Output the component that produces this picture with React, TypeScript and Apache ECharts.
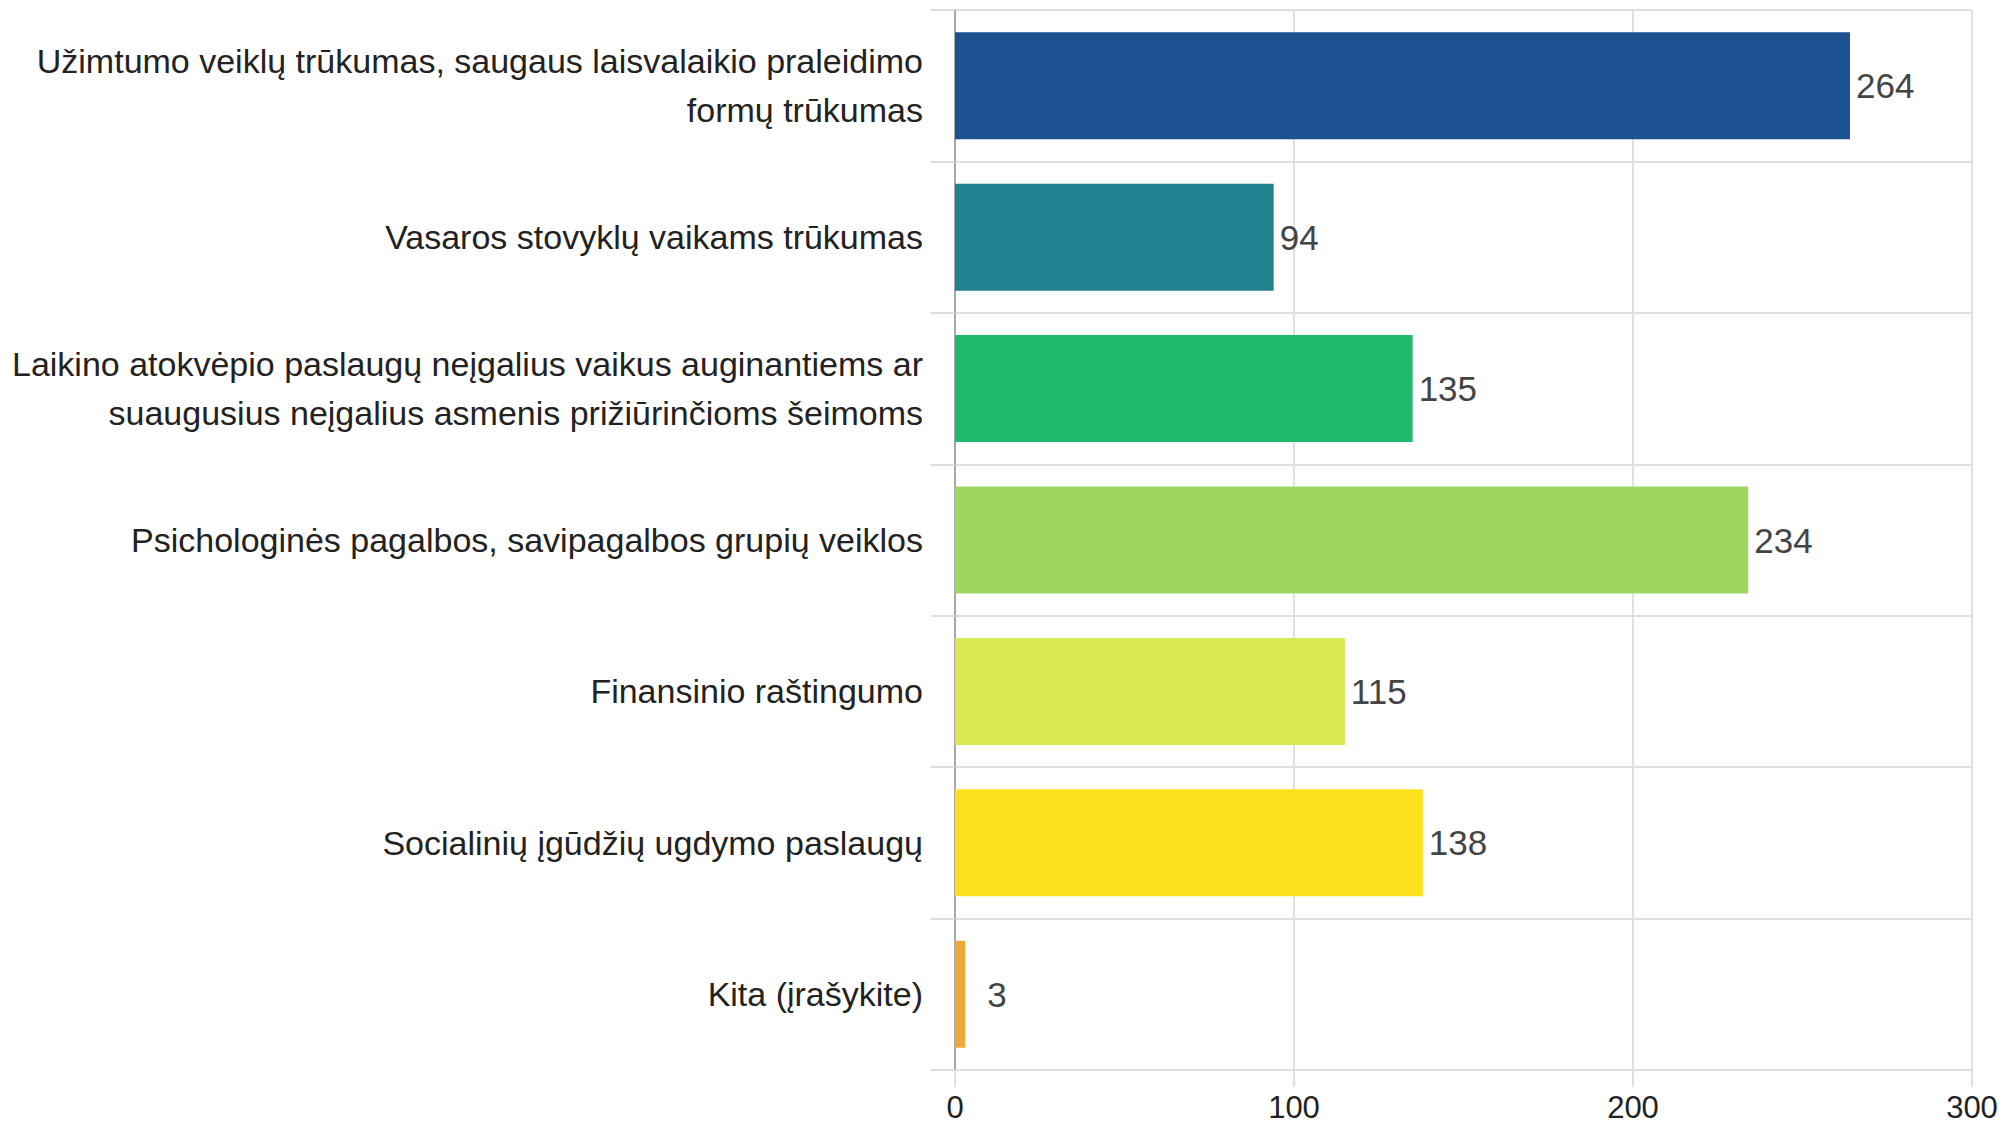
import React, { useEffect, useRef } from "react";
import * as echarts from "echarts";

const categories: string[] = [
  "Užimtumo veiklų trūkumas, saugaus laisvalaikio praleidimo\nformų trūkumas",
  "Vasaros stovyklų vaikams trūkumas",
  "Laikino atokvėpio paslaugų neįgalius vaikus auginantiems ar\nsuaugusius neįgalius asmenis prižiūrinčioms šeimoms",
  "Psichologinės pagalbos, savipagalbos grupių veiklos",
  "Finansinio raštingumo",
  "Socialinių įgūdžių ugdymo paslaugų",
  "Kita (įrašykite)",
];
const values: number[] = [264, 94, 135, 234, 115, 138, 3];
const barColors: string[] = [
  "#1b5191",
  "#22818e",
  "#1fba6e",
  "#9dd762",
  "#d9e84f",
  "#fde11c",
  "#efa737",
];
const xTicks: number[] = [0, 100, 200, 300];

const FONT = "'Liberation Sans', Arial, sans-serif";

export default function App() {
  const ref = useRef<HTMLDivElement>(null);
  useEffect(() => {
    if (!ref.current) return;
    const chart = echarts.init(ref.current, undefined, { renderer: "svg" });
    chart.setOption({
      animation: false,
      backgroundColor: "#ffffff",
      grid: { left: 955, right: 33, top: 10, bottom: 55, containLabel: false },
      xAxis: {
        type: "value",
        min: xTicks[0],
        max: xTicks[xTicks.length - 1],
        interval: 100,
        axisLine: { show: false },
        axisTick: { show: true, length: 17, lineStyle: { color: "#e0e0e0", width: 2 } },
        splitLine: { show: true, lineStyle: { color: "#e0e0e0", width: 2 } },
        axisLabel: { color: "#222222", fontSize: 31, fontFamily: FONT, margin: 22 },
      },
      yAxis: {
        type: "category",
        data: categories,
        inverse: true,
        axisLine: { show: true, lineStyle: { color: "#a8a8a8", width: 2 } },
        axisTick: { show: true, length: 24, lineStyle: { color: "#dddddd", width: 2 } },
        splitLine: { show: true, lineStyle: { color: "#e0e0e0", width: 2 } },
        axisLabel: {
          color: "#222222",
          fontSize: 34,
          fontFamily: FONT,
          margin: 32,
          lineHeight: 49,
          align: "right",
        },
      },
      series: [
        {
          type: "bar",
          barWidth: 107,
          data: values.map((v, i) => ({
            value: v,
            itemStyle: { color: barColors[i] },
            label: { distance: v < 10 ? 22 : 6 },
          })),
          label: {
            show: true,
            position: "right",
            color: "#444444",
            fontSize: 35,
            fontFamily: FONT,
          },
        },
      ],
    });
    return () => chart.dispose();
  }, []);
  return (
    <div
      ref={ref}
      style={{ position: "absolute", left: 0, top: 0, width: 2005, height: 1125 }}
    />
  );
}
